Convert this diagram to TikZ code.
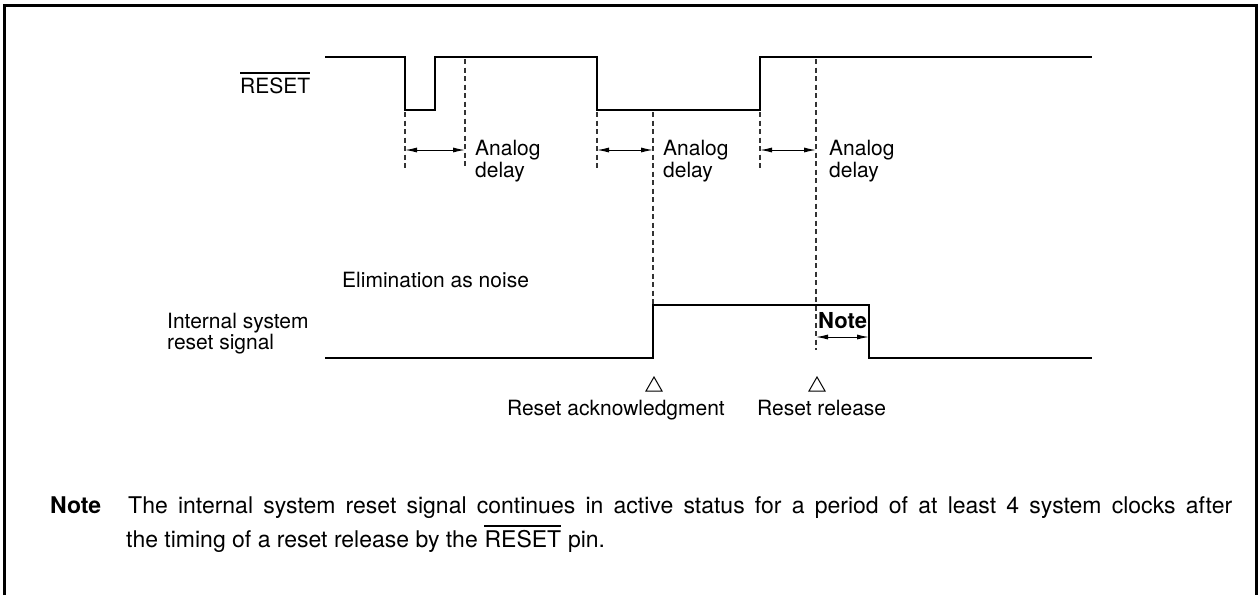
\documentclass[tikz,border=0pt]{standalone}
\usepackage{fontspec}
\setmainfont{TeX Gyre Heros}
\usetikzlibrary{arrows.meta}
\begin{document}
\begin{tikzpicture}[x=1pt,y=-1pt,
  wave/.style={line width=2.8pt, line join=miter},
  guide/.style={line width=1.3pt, dash pattern=on 5pt off 3.5pt, draw=black!80},
  dim/.style={line width=1pt, {Latex[length=12pt,width=5pt]}-{Latex[length=12pt,width=5pt]}},
  lbl/.style={inner sep=0pt, anchor=base west, font=\fontsize{21}{22}\selectfont},
  notetxt/.style={inner sep=0pt, anchor=base west, font=\fontsize{23}{26}\selectfont},
  trimark/.style={line width=1pt, line join=miter},
  obar/.style={line width=1.2pt}]
\useasboundingbox (0,0) rectangle (1258,595);
% frame (open at bottom)
\draw[line width=3pt] (4.5,595) -- (4.5,5.3) -- (1256.8,5.3) -- (1256.8,595);

% key coordinates
\coordinate (a1) at (405,150);
\coordinate (a2) at (465,150);
\coordinate (b1) at (597,150);
\coordinate (b2) at (653,150);
\coordinate (c1) at (760,150);
\coordinate (c2) at (816,150);
\coordinate (n1) at (816,337);
\coordinate (n2) at (869,337);

% RESET waveform
\draw[wave] (325,57) -- (405,57) -- (405,110) -- (435,110) -- (435,57) -- (597,57)
  -- (597,110) -- (760,110) -- (760,57) -- (1092,57);

% internal reset waveform
\draw[wave] (325,358) -- (653,358) -- (653,305) -- (869,305) -- (869,358) -- (1092,358);

% guide lines
\draw[guide] (405,112) -- (405,168);
\draw[guide] (465,59) -- (465,168);
\draw[guide] (597,112) -- (597,168);
\draw[guide] (653,112) -- (653,304);
\draw[guide] (760,112) -- (760,168);
\draw[guide] (816,59) -- (816,350);

% delay arrows
\draw[dim] (a1) -- (a2);
\draw[dim] (b1) -- (b2);
\draw[dim] (c1) -- (c2);
\draw[dim] (n1) -- (n2);

% labels
\node[lbl] (rst) at (240,93) {RESET};
\draw[obar] ([yshift=20pt]rst.base west) -- ([yshift=20pt]rst.base east);

\node[lbl] (ad1a) at (475,155) {Analog};
\node[lbl] (ad1b) at (475,177) {delay};
\node[lbl] (ad2a) at (663,155) {Analog};
\node[lbl] (ad2b) at (663,177) {delay};
\node[lbl] (ad3a) at (829,155) {Analog};
\node[lbl] (ad3b) at (829,177) {delay};

\node[lbl] (elim) at (342,287) {Elimination as noise};
\node[lbl] (int1) at (167,328) {Internal system};
\node[lbl] (int2) at (167,349) {reset signal};
\node[lbl, font=\fontsize{22}{23}\selectfont\bfseries] (nt) at (818,328) {Note};

% triangles
\draw[trimark] (654,377) -- (662,391) -- (646,391) -- cycle;
\draw[trimark] (817,377) -- (825,391) -- (809,391) -- cycle;
\node[lbl, anchor=base east] (ack) at (725,415) {Reset acknowledgment};
\node[lbl] (rel) at (757,415) {Reset release};

% note
\node[notetxt, font=\fontsize{23}{26}\selectfont\bfseries] (notel) at (50,513) {Note};
\node[notetxt] (l1) at (128,513) {\hbox to 1104pt{The internal system reset signal continues in active status for a period of at least 4 system clocks after}};
\node[notetxt] (l2a) at (126,547) {the timing of a reset release by the};
\node[notetxt] (l2b) at ([xshift=6.4pt]l2a.base east) {RESET};
\node[notetxt] (l2c) at ([xshift=6.4pt]l2b.base east) {pin.};
\draw[obar] ([yshift=21pt]l2b.base west) -- ([yshift=21pt]l2b.base east);
\end{tikzpicture}
\end{document}
